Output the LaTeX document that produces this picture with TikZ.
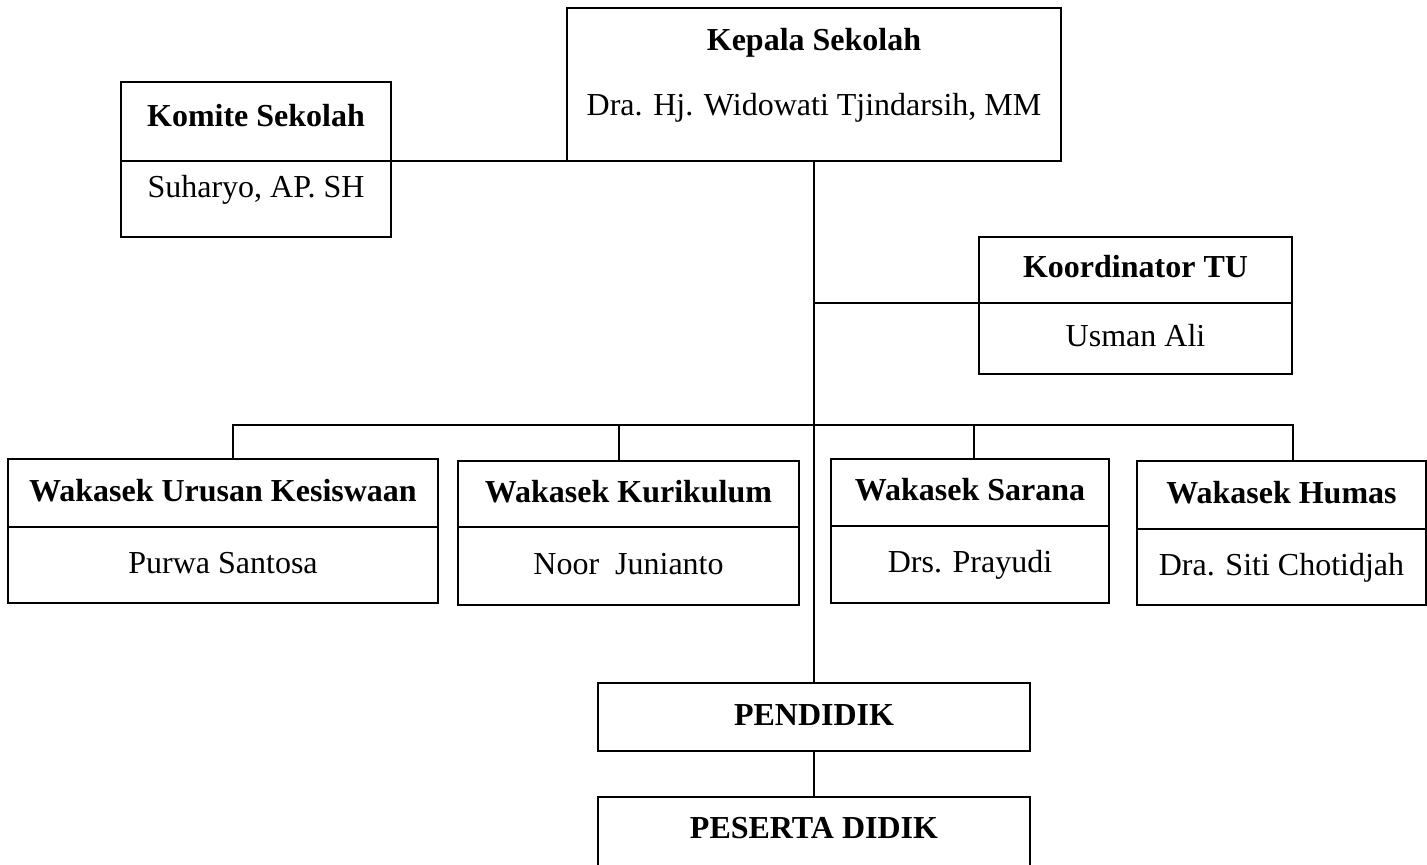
\documentclass[tikz,border=0pt]{standalone}
\usepackage{fontspec}
\setmainfont{Liberation Serif}
\usetikzlibrary{positioning}

\begin{document}
\begin{tikzpicture}[x=0.5pt,y=-0.5pt,line width=1.1pt,
		teks/.style={rectangle,inner sep=0pt,outer sep=0pt,text height=11pt,text depth=3pt,font=\fontsize{16}{19}\selectfont},
		base/.style={teks,draw},
		head/.style={base,font=\fontsize{16}{19}\selectfont\bfseries}]
		\useasboundingbox (0,0) rectangle (1427,865);
		% kepala sekolah
		\node[base,minimum width=247pt,minimum height=76.5pt] (kepala) at (814,84.5) {};
		\node[teks,font=\fontsize{16}{19}\selectfont\bfseries] (kepalaT) at (814,43) {Kepala Sekolah};
		\node[teks] (kepalaN) at (814,108) {Dra. Hj. Widowati Tjindarsih, MM};
		% komite
		\node[head,minimum width=135pt,minimum height=39.5pt,text depth=6pt] (komiteT) at (256,121.5) {Komite Sekolah};
		\node[base,minimum width=135pt,minimum height=38pt,text depth=12pt,below=0pt of komiteT] (komiteN) {Suharyo, AP. SH};
		% koordinator TU
		\node[head,minimum width=156.5pt,minimum height=33pt] (koorT) at (1135.5,270) {Koordinator TU};
		\node[base,minimum width=156.5pt,minimum height=35.5pt,below=0pt of koorT] (koorN) {Usman Ali};
		% wakasek
		\node[head,minimum width=215pt,minimum height=34pt] (urusanT) at (223,493) {Wakasek Urusan Kesiswaan};
		\node[base,minimum width=215pt,minimum height=38pt,below=0pt of urusanT] (urusanN) {Purwa Santosa};
		\node[head,minimum width=170.5pt,minimum height=33pt] (kurikulumT) at (628.5,494) {Wakasek Kurikulum};
		\node[base,minimum width=170.5pt,minimum height=39pt,below=0pt of kurikulumT] (kurikulumN) {Noor\ \ Junianto};
		\node[head,minimum width=139pt,minimum height=33.5pt] (saranaT) at (970,492.5) {Wakasek Sarana};
		\node[base,minimum width=139pt,minimum height=38.5pt,below=0pt of saranaT] (saranaN) {Drs. Prayudi};
		\node[head,minimum width=144.5pt,minimum height=34pt] (humasT) at (1281.5,495) {Wakasek Humas};
		\node[base,minimum width=144.5pt,minimum height=38pt,below=0pt of humasT] (humasN) {Dra. Siti Chotidjah};
		% pendidik
		\node[head,minimum width=216pt,minimum height=34pt] (pendidik) at (814,717) {PENDIDIK};
		\node[head,minimum width=216pt,minimum height=45pt,text depth=14.4pt] (peserta) at (814,842) {PESERTA DIDIK};
		
		% garis
		\coordinate (bus) at (814,425);
		\coordinate (urusanD) at ([xshift=5pt]urusanT.north);
		\coordinate (kurikulumD) at ([xshift=-4.75pt]kurikulumT.north);
		\coordinate (saranaD) at ([xshift=2pt]saranaT.north);
		\coordinate (humasD) at ([xshift=5.75pt]humasT.north);
		\draw (komiteT.south east) -- (kepala.south west);
		\draw (kepala.south) -- (pendidik.north);
		\draw (koorT.south west) -- (koorT.south west -| kepala.south);
		\draw (urusanD) |- (bus) -| (humasD);
		\draw (kurikulumD) -- (kurikulumD |- bus);
		\draw (saranaD) -- (saranaD |- bus);
		\draw (pendidik.south) -- (peserta.north);
\end{tikzpicture}
\end{document}
